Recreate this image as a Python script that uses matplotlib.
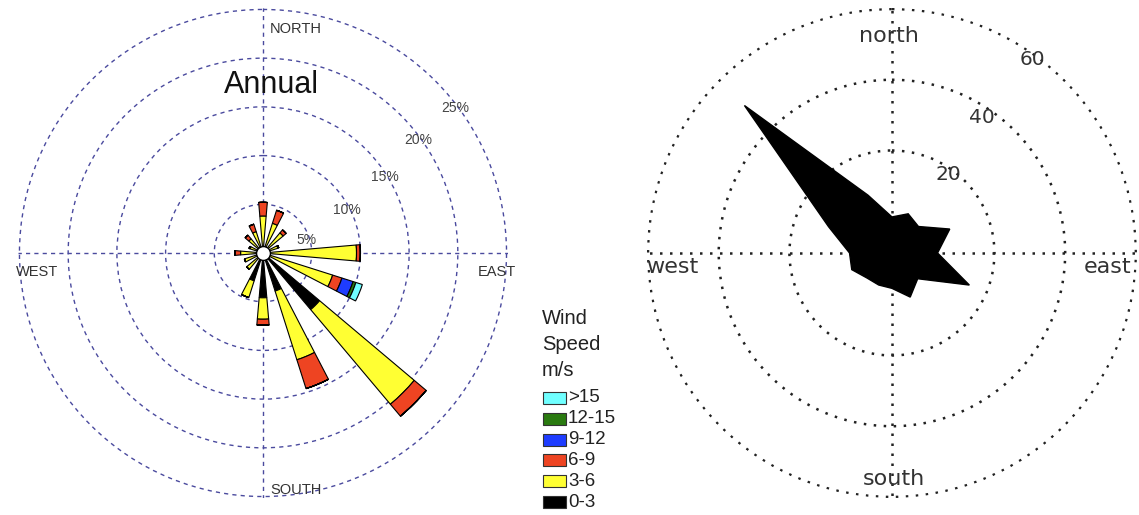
import numpy as np
import matplotlib
matplotlib.use('Agg')
import matplotlib.pyplot as plt
from matplotlib.patches import Rectangle

# ---------------- data ----------------
directions = ['N', 'NNE', 'NE', 'ENE', 'E', 'ESE', 'SE', 'SSE',
              'S', 'SSW', 'SW', 'WSW', 'W', 'WNW', 'NW', 'NNW']
speed_classes = ['0-3', '3-6', '6-9', '9-12', '12-15', '>15']
class_colors = ['#000000', '#ffff33', '#ee4422', '#1e3cff', '#2a7a10', '#70ffff']

# percent frequency of each speed class per direction (left wind rose)
spd_0_3 = [0.5, 0.4, 0.3, 0.3, 0.5, 0.3, 7.6, 4.1, 4.6, 3.0, 0.5, 0.4, 0.4, 0.3, 0.3, 0.3]
spd_3_6 = [3.3, 2.8, 2.4, 1.3, 9.1, 7.2, 12.7, 7.4, 2.2, 1.8, 1.7, 1.6, 1.9, 1.1, 1.6, 2.0]
spd_6_9 = [1.4, 1.4, 0.4, 0.1, 0.4, 1.0, 1.6, 3.1, 0.6, 0.0, 0.0, 0.0, 0.6, 0.1, 0.5, 0.8]
spd_9_12 = [0, 0, 0, 0, 0, 1.2, 0, 0, 0, 0, 0, 0, 0, 0, 0, 0]
spd_12_15 = [0, 0, 0, 0, 0, 0.3, 0, 0, 0, 0, 0, 0, 0, 0, 0, 0]
spd_gt15 = [0, 0, 0, 0, 0, 0.7, 0, 0, 0, 0, 0, 0, 0, 0, 0, 0]
pct_ticks = [5, 10, 15, 20, 25]
pct_labels = ['5%', '10%', '15%', '20%', '25%']

# right radar chart
radar_values = [1.2, 3.0, 1.6, 8.7, 3.9, 14.7, 1.3, 4.5,
                1.0, 0.8, 1.0, 3.3, 3.0, 10.4, 50.0, 8.7]
radar_ticks = [20, 40, 60]

# --------------- figure ----------------
fig = plt.figure(figsize=(11.39, 5.15), dpi=100)
fig.patch.set_facecolor('white')

theta = np.deg2rad(np.arange(len(directions)) * 22.5)

# ---- left wind rose ----
ax = fig.add_axes([0.0158, 0.033, 0.4302, 0.9515], projection='polar')
ax.set_theta_zero_location('N')
ax.set_theta_direction(-1)
ax.set_ylim(0, 25.15)
ax.spines['polar'].set_visible(False)
ax.set_thetagrids([0, 90, 180, 270], labels=['', '', '', ''])
ax.set_rgrids(pct_ticks, labels=['' for _ in pct_ticks])
ax.grid(True, color='#4a4a9e', linestyle=(0, (3, 3)), linewidth=1.0)
ax.tick_params(length=0)

stack = [spd_0_3, spd_3_6, spd_6_9, spd_9_12, spd_12_15, spd_gt15]
bottom = np.zeros(len(directions))
for vals, col in zip(stack, class_colors):
    vals = np.asarray(vals, dtype=float)
    ax.bar(theta, vals, width=np.deg2rad(9.8), bottom=bottom, color=col,
           edgecolor='black', linewidth=0.8, zorder=3)
    bottom = bottom + vals
ax.plot([0], [0], marker='o', ms=10, mfc='white', mec='black', mew=1.0, zorder=6)

nf = ['Liberation Sans Narrow', 'Liberation Sans']
label_angles = [73, 63, 58, 54, 53]
for t, lab, ang in zip(pct_ticks, pct_labels, label_angles):
    ax.text(np.deg2rad(ang), t - 0.3, lab, ha='center', va='center', fontsize=10,
            color='#444444', family=nf, zorder=7)

ax.text(0.514, 0.971, 'NORTH', transform=ax.transAxes, ha='left', va='top',
        fontsize=10.5, color='#333333', family=nf)
ax.text(0.514, 0.002, 'SOUTH', transform=ax.transAxes, ha='left', va='bottom',
        fontsize=10.5, color='#333333', family=nf)
ax.text(-0.004, 0.461, 'WEST', transform=ax.transAxes, ha='left', va='center',
        fontsize=10.5, color='#333333', family=nf)
ax.text(1.016, 0.461, 'EAST', transform=ax.transAxes, ha='right', va='center',
        fontsize=10.5, color='#333333', family=nf)
ax.text(0.518, 0.843, 'Annual', transform=ax.transAxes, ha='center', va='center',
        fontsize=22, color='#111111', family='Liberation Sans')

# ---- legend ----
W, H = 1139.0, 515.0
for line, yb in zip(['Wind', 'Speed', 'm/s'], [324, 350, 376]):
    fig.text(542 / W, 1 - yb / H, line, ha='left', va='baseline', fontsize=14.5,
             family='Liberation Sans', color='#222222')
ycent = 398
for lab, col in zip(speed_classes[::-1], class_colors[::-1]):
    fig.add_artist(Rectangle((543 / W, 1 - (ycent + 6) / H), 23 / W, 12 / H,
                             transform=fig.transFigure, facecolor=col,
                             edgecolor='#333333', linewidth=0.8))
    fig.text(568 / W, 1 - ycent / H, lab, ha='left', va='center', fontsize=13.5,
             family='Liberation Sans', color='#222222')
    ycent += 20.8

# ---- right radar chart ----
ax2 = fig.add_axes([0.568, 0.033, 0.4302, 0.9515], projection='polar')
ax2.set_theta_zero_location('N')
ax2.set_theta_direction(-1)
ax2.set_ylim(-9, 60.3)
ax2.spines['polar'].set_visible(False)
ax2.set_thetagrids([0, 90, 180, 270], labels=['', '', '', ''])
ax2.set_rgrids(radar_ticks, labels=['' for _ in radar_ticks])
ax2.grid(True, color='#222222', linestyle=(0, (1, 3)), linewidth=1.8)
ax2.tick_params(length=0)

th_c = np.append(theta, theta[0])
rv_c = np.append(np.asarray(radar_values), radar_values[0])
ax2.fill(th_c, rv_c, color='black', zorder=3)

rf = ['DejaVu Sans']
for t, ang, rr in zip(radar_ticks, [35.7, 33.5, 36.1], [18.2, 37.1, 58.6]):
    ax2.text(np.deg2rad(ang), rr, str(t), ha='center', va='center',
             fontsize=14.5, color='#333333', family=rf, zorder=5)
ax2.text(0.494, 0.943, 'north', transform=ax2.transAxes, ha='center', va='center',
         fontsize=16, color='#333333', family=rf)
ax2.text(0.504, 0.039, 'south', transform=ax2.transAxes, ha='center', va='center',
         fontsize=16, color='#333333', family=rf)
ax2.text(0.051, 0.471, 'west', transform=ax2.transAxes, ha='center', va='center',
         fontsize=16, color='#333333', family=rf)
ax2.text(0.941, 0.471, 'east', transform=ax2.transAxes, ha='center', va='center',
         fontsize=16, color='#333333', family=rf)

fig.savefig('out.png', dpi=100, facecolor='white')
